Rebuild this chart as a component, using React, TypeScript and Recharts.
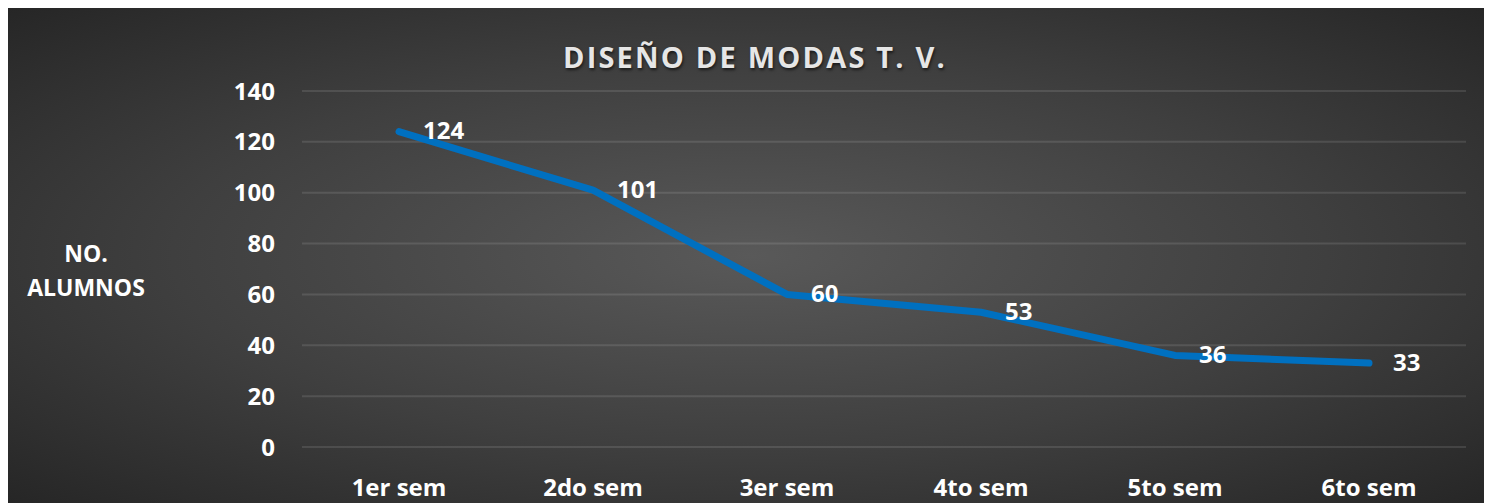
import { LineChart, Line, XAxis, YAxis, CartesianGrid, LabelList } from "recharts";

const semesters = ["1er sem", "2do sem", "3er sem", "4to sem", "5to sem", "6to sem"];
const students = [124, 101, 60, 53, 36, 33];
const yTicks = [0, 20, 40, 60, 80, 100, 120, 140];

const chartData = semesters.map((name, i) => ({ name, alumnos: students[i] }));

const FONT = "'Open Sans', sans-serif";

const PointLabel = (props: any) => {
  const { x, y, value } = props;
  return (
    <text
      x={x + 24}
      y={y + 1}
      fill="#ffffff"
      fontFamily={FONT}
      fontWeight={700}
      fontSize={24}
      dominantBaseline="middle"
    >
      {value}
    </text>
  );
};

const App = () => {
  return (
    <div
      style={{
        position: "relative",
        width: 1484,
        height: 495,
        background:
          "radial-gradient(ellipse farthest-corner at 50% 50%, #595959 0%, #3f3f3f 55%, #262626 100%)",
        fontFamily: FONT,
      }}
    >
      <div
        style={{
          position: "absolute",
          top: 30,
          left: 0,
          width: 1494,
          textAlign: "center",
          fontSize: 29,
          fontWeight: 700,
          letterSpacing: 2.2,
          color: "#e6e6e6",
          lineHeight: "38px",
          textShadow: "1px 2px 3px rgba(0,0,0,0.6)",
        }}
      >
        DISEÑO DE MODAS T. V.
      </div>
      <div
        style={{
          position: "absolute",
          top: 228,
          left: 10,
          width: 136,
          textAlign: "center",
          fontSize: 23,
          fontWeight: 700,
          color: "#ffffff",
          lineHeight: "34px",
        }}
      >
        NO.
        <br />
        ALUMNOS
      </div>
      <LineChart
        width={1484}
        height={495}
        data={chartData}
        margin={{ top: 83, right: 26, bottom: 0, left: 0 }}
        style={{ position: "absolute", top: 0, left: 0 }}
      >
        <CartesianGrid vertical={false} stroke="rgba(255,255,255,0.11)" strokeWidth={2} />
        <XAxis
          dataKey="name"
          scale="band"
          height={56}
          axisLine={false}
          tickLine={false}
          tickSize={0}
          tickMargin={32}
          tick={{ fill: "#ffffff", fontSize: 24, fontWeight: 700, fontFamily: FONT }}
        />
        <YAxis
          width={294}
          domain={[0, 140]}
          ticks={yTicks}
          axisLine={false}
          tickLine={false}
          tickSize={0}
          tickMargin={27}
          tick={{ fill: "#ffffff", fontSize: 24, fontWeight: 700, fontFamily: FONT }}
        />
        <Line
          type="linear"
          dataKey="alumnos"
          stroke="#0070c0"
          strokeWidth={7}
          strokeLinecap="round"
          strokeLinejoin="round"
          dot={false}
          activeDot={false}
          isAnimationActive={false}
        >
          <LabelList dataKey="alumnos" content={<PointLabel />} />
        </Line>
      </LineChart>
    </div>
  );
};

export default App;
